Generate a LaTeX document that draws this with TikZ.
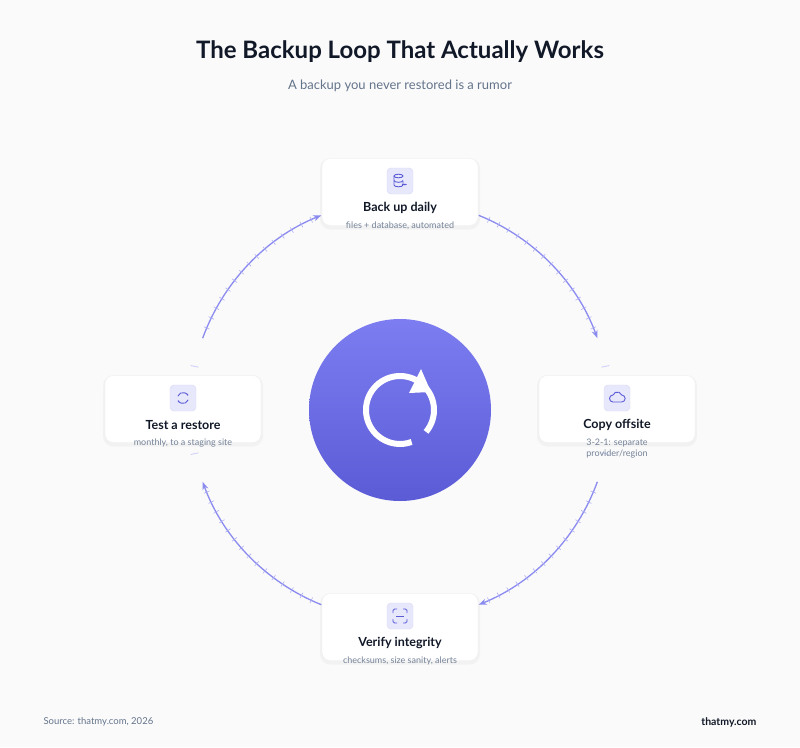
\documentclass[tikz,border=0pt]{standalone}
\usepackage{fontspec}
\setmainfont{Lato}
\usetikzlibrary{arrows.meta}
\definecolor{ink}{HTML}{111827}
\definecolor{sub}{HTML}{64748B}
\definecolor{ringc}{HTML}{8B8BF0}
\definecolor{iconbg}{HTML}{E8E8FD}
\definecolor{iconfg}{HTML}{5B5BD6}
\tikzset{
  card/.style={draw=black!7, fill=white, rounded corners=8pt, minimum width=156pt, minimum height=67pt},
  halo/.style={fill=black, fill opacity=0.03, rounded corners=10pt, minimum width=160pt, minimum height=71pt},
  badge/.style={draw=iconfg!25, fill=iconbg, rounded corners=4pt, minimum size=26pt},
  ttl/.style={font=\fontsize{12.5}{14}\selectfont\bfseries, text=ink},
  note/.style={font=\fontsize{9}{11}\selectfont, text=sub!90, align=center},
  ring/.style={color=ringc, line width=1.3pt},
  icon/.style={shift={(#1)}, y=1pt, iconfg, line width=0.9pt},
}
\begin{document}
\begin{tikzpicture}[x=1pt,y=-1pt]
\useasboundingbox[fill=black!2] (0,0) rectangle (800,747);
\node[font=\fontsize{24}{27}\selectfont\bfseries, text=ink] (title) at (400,52) {The Backup Loop That Actually Works};
\node[font=\fontsize{13}{15}\selectfont, text=sub] (subt) at (400,86) {A backup you never restored is a rumor};

% ring arcs with ticks
\begin{scope}[shift={(400,410)}, y=1pt]
  \foreach \a/\b in {68/20, -20/-68, -112/-160, 160/112}{
    \draw[ring, -{Stealth[length=8pt,width=6pt]}] (\a:210) arc (\a:\b:210);
    \pgfmathsetmacro{\stp}{(\b-\a)/16}
    \foreach \k in {1,...,15}{
      \pgfmathsetmacro{\t}{\a+\k*\stp}
      \draw[ringc!70, line width=0.6pt] (\t:207) -- (\t:213);
    }
  }
  \foreach \t in {12,6,-6,-12,168,174,186,192}{
    \draw[ringc!40, line width=0.9pt] (\t:206) -- (\t:214);
  }
\end{scope}

% hub
\shade[top color=ringc!90!blue, bottom color=iconfg, draw=none] (400,410) circle (91);
\draw[white, line width=6pt] (400,410) ++(40:34) arc (40:-290:34);
\fill[white] (421,369) -- (431,392) -- (409,393) -- cycle;

% cards
\foreach \p in {(400,194),(617,411),(400,629),(183,411)}
  \node[halo] at \p {};
\node[card] (daily) at (400,192) {};
\node[card] (offsite) at (617,409) {};
\node[card] (verify) at (400,627) {};
\node[card] (restore) at (183,409) {};

\foreach \c/\t/\n in {daily/Back up daily/{files + database, automated},
                      offsite/Copy offsite/{3-2-1: separate\\provider/region},
                      verify/Verify integrity/{checksums, size sanity, alerts},
                      restore/Test a restore/{monthly, to a staging site}}{
  \node[badge] (\c-b) at ([yshift=11pt]\c.center) {};
  \node[ttl] (\c-t) at ([yshift=-16pt]\c.center) {\t};
  \node[note, anchor=north] (\c-n) at ([yshift=-26pt]\c.center) {\n};
}

% icons
\begin{scope}[icon=daily-b]
  \draw (-1.5,5) ellipse (4.5 and 1.8);
  \draw (-6,5) -- (-6,-4) arc (180:360:4.5 and 1.8) -- (3,0);
  \draw (-6,0.5) arc (180:360:4.5 and 1.8);
  \draw[-{Stealth[length=2.5pt]}] (1.5,-3.5) -- (7,-3.5);
\end{scope}
\begin{scope}[icon=offsite-b]
  \draw[line join=round] (-4,-4) arc (270:90:3.5) arc (160:20:4.6) arc (90:-90:3.5) -- cycle;
\end{scope}
\begin{scope}[icon=verify-b]
  \draw[rounded corners=1.5pt] (-7,3) |- (-3,7) (7,3) |- (3,7) (-7,-3) |- (-3,-7) (7,-3) |- (3,-7);
  \draw (-4,0) -- (4,0);
\end{scope}
\begin{scope}[icon=restore-b]
  \draw[-{Stealth[length=2.5pt]}] (160:5.5) arc (160:20:5.5);
  \draw[-{Stealth[length=2.5pt]}] (-20:5.5) arc (-20:-160:5.5);
\end{scope}

\node[font=\fontsize{9.5}{11}\selectfont, text=sub, anchor=west] (src) at (40,722) {Source: thatmy.com, 2026};
\node[font=\fontsize{10.5}{12}\selectfont\bfseries, text=ink, anchor=east] (brand) at (760,722) {thatmy.com};
\end{tikzpicture}
\end{document}
